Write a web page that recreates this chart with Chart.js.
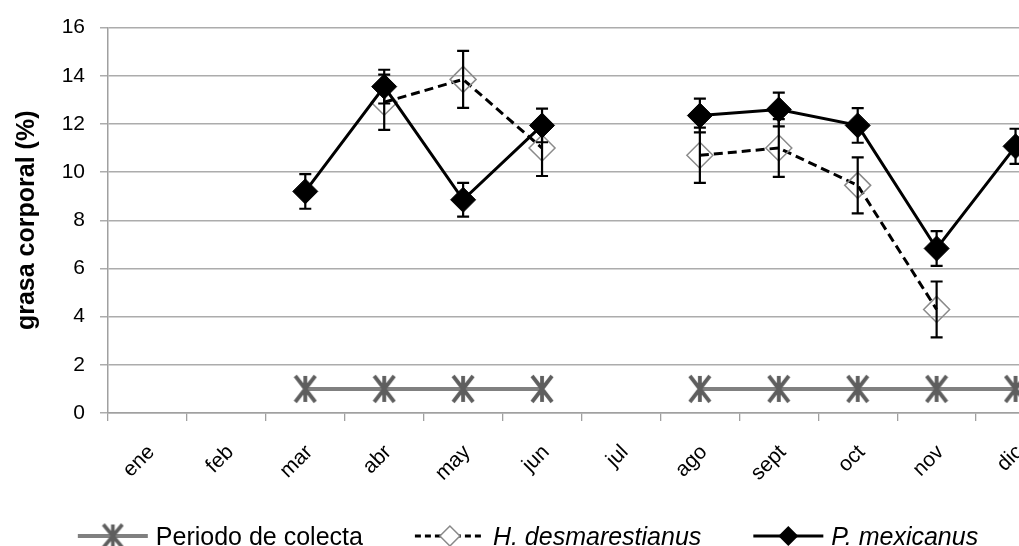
<!DOCTYPE html>
<html>
<head>
<meta charset="utf-8">
<script src="https://cdn.jsdelivr.net/npm/chart.js@4.4.1/dist/chart.umd.min.js"></script>
<style>
  html, body { margin: 0; padding: 0; background: #fff; overflow: hidden; }
  #wrap { width: 1019px; height: 546px; overflow: hidden; position: relative; }
  canvas { display: block; }
</style>
</head>
<body>
<div id="wrap"><canvas id="chart" width="1072" height="546"></canvas></div>
<script>
const months = ['ene', 'feb', 'mar', 'abr', 'may', 'jun', 'jul', 'ago', 'sept', 'oct', 'nov', 'dic'];
const yTicks = [0, 2, 4, 6, 8, 10, 12, 14, 16];

// Periodo de colecta (marker row at y = 1)
const periodo = [null, null, 1, 1, 1, 1, null, 1, 1, 1, 1, 1];

// H. desmarestianus
const hDes = [null, null, null, 12.9, 13.85, 11.0, null, 10.7, 11.0, 9.45, 4.3, null];
const hErr = [null, null, null, 1.15, 1.18, 1.16, null, 1.15, 1.2, 1.16, 1.16, null];

// P. mexicanus
const pMex = [null, null, 9.2, 13.55, 8.85, 11.94, null, 12.35, 12.6, 11.94, 6.83, 11.07];
const pErr = [null, null, 0.72, 0.7, 0.7, 0.7, null, 0.7, 0.7, 0.72, 0.72, 0.73];

const FONT = "'Liberation Sans', Arial, sans-serif";

// asterisk marker as an image
function makeAsterisk(w, h, lw, color) {
    const c = document.createElement('canvas');
    c.width = w + 4;
    c.height = h + 4;
    const g = c.getContext('2d');
    g.strokeStyle = color;
    g.lineWidth = lw;
    const cx = c.width / 2, cy = c.height / 2;
    g.beginPath();
    g.moveTo(cx, cy - h / 2); g.lineTo(cx, cy + h / 2);
    g.moveTo(cx - w / 2, cy - h / 2); g.lineTo(cx + w / 2, cy + h / 2);
    g.moveTo(cx - w / 2, cy + h / 2); g.lineTo(cx + w / 2, cy - h / 2);
    g.stroke();
    return c;
}
const asterisk = makeAsterisk(20, 26, 3.8, '#5e5e5e');
const asteriskSmall = makeAsterisk(19, 23, 3.6, '#5e5e5e');

// error bars drawn on top of the datasets
const errorBars = {
    id: 'errorBars',
    afterDatasetsDraw(chart) {
        const ctx = chart.ctx;
        const xs = chart.scales.x, ys = chart.scales.y;
        chart.data.datasets.forEach((ds) => {
            if (!ds.errors) return;
            ctx.save();
            ctx.strokeStyle = '#000';
            ctx.lineWidth = 2.2;
            ds.data.forEach((v, i) => {
                const e = ds.errors[i];
                if (v == null || e == null) return;
                const x = xs.getPixelForValue(i);
                const yTop = ys.getPixelForValue(v + e);
                const yBot = ys.getPixelForValue(v - e);
                ctx.beginPath();
                ctx.moveTo(x, yTop); ctx.lineTo(x, yBot);
                ctx.moveTo(x - 6, yTop); ctx.lineTo(x + 6, yTop);
                ctx.moveTo(x - 6, yBot); ctx.lineTo(x + 6, yBot);
                ctx.stroke();
            });
            ctx.restore();
        });
    }
};

// legend: line sample with marker, then text
const legendRow = {
    id: 'legendRow',
    afterDraw(chart) {
        const ctx = chart.ctx;
        const items = [
            { text: 'Periodo de colecta', italic: false, kind: 'periodo' },
            { text: 'H. desmarestianus', italic: true, kind: 'h' },
            { text: 'P. mexicanus', italic: true, kind: 'p' }
        ];
        const sample = 70, gapText = 8, gapItem = 52, y = 536, center = 528;
        let total = 0;
        items.forEach(it => {
            ctx.font = (it.italic ? 'italic ' : '') + '25px ' + FONT;
            it.w = ctx.measureText(it.text).width;
            total += sample + gapText + it.w;
        });
        total += gapItem * (items.length - 1);
        let x = center - total / 2;
        items.forEach(it => {
            ctx.save();
            const mid = x + sample / 2;
            if (it.kind === 'periodo') {
                ctx.strokeStyle = '#808080';
                ctx.lineWidth = 4;
                ctx.beginPath(); ctx.moveTo(x, y); ctx.lineTo(x + sample, y); ctx.stroke();
                ctx.drawImage(asteriskSmall, mid - asteriskSmall.width / 2, y - asteriskSmall.height / 2);
            } else {
                ctx.strokeStyle = '#000';
                ctx.lineWidth = 3;
                if (it.kind === 'h') ctx.setLineDash([6, 4]);
                ctx.beginPath(); ctx.moveTo(x, y); ctx.lineTo(x + sample, y); ctx.stroke();
                ctx.setLineDash([]);
                const r = 10;
                ctx.beginPath();
                ctx.moveTo(mid - r, y); ctx.lineTo(mid, y - r);
                ctx.lineTo(mid + r, y); ctx.lineTo(mid, y + r); ctx.closePath();
                if (it.kind === 'h') {
                    ctx.fillStyle = '#fff'; ctx.fill();
                    ctx.strokeStyle = '#888'; ctx.lineWidth = 1.5; ctx.stroke();
                } else {
                    ctx.fillStyle = '#000'; ctx.fill();
                }
            }
            ctx.fillStyle = '#000';
            ctx.font = (it.italic ? 'italic ' : '') + '25px ' + FONT;
            ctx.textAlign = 'left';
            ctx.textBaseline = 'alphabetic';
            ctx.fillText(it.text, x + sample + gapText, 545);
            ctx.restore();
            x += sample + gapText + it.w + gapItem;
        });
    }
};

const ctx = document.getElementById('chart').getContext('2d');

new Chart(ctx, {
    type: 'line',
    data: {
        labels: months,
        datasets: [
            {
                label: 'Periodo de colecta',
                data: periodo,
                borderColor: '#808080',
                borderWidth: 4,
                pointStyle: asterisk,
                pointRadius: 13,
                spanGaps: false,
                order: 2
            },
            {
                label: 'H. desmarestianus',
                data: hDes,
                errors: hErr,
                borderColor: '#000000',
                borderWidth: 3,
                borderDash: [9, 5],
                pointStyle: 'rectRot',
                pointRadius: 13,
                pointBorderColor: '#8a8a8a',
                pointBorderWidth: 1.5,
                pointBackgroundColor: 'rgba(255,255,255,0)',
                spanGaps: false,
                order: 1
            },
            {
                label: 'P. mexicanus',
                data: pMex,
                errors: pErr,
                borderColor: '#000000',
                borderWidth: 3,
                pointStyle: 'rectRot',
                pointRadius: 12.5,
                pointBorderColor: '#000000',
                pointBorderWidth: 1,
                pointBackgroundColor: '#000000',
                spanGaps: false,
                order: 0
            }
        ]
    },
    options: {
        responsive: false,
        animation: false,
        layout: { padding: { left: 0, right: 1, top: 22, bottom: 0 } },
        plugins: {
            legend: { display: false },
            tooltip: { enabled: false }
        },
        scales: {
            x: {
                type: 'category',
                offset: true,
                afterFit: (scale) => { scale.height = 133; },
                grid: {
                    display: true,
                    offset: true,
                    drawOnChartArea: false,
                    drawTicks: true,
                    tickLength: 8,
                    color: '#a0a0a0',
                    lineWidth: 1.3
                },
                border: { display: true, color: '#a0a0a0', width: 1.5 },
                ticks: {
                    color: '#000',
                    font: { family: FONT, size: 21 },
                    maxRotation: 45,
                    minRotation: 45,
                    padding: 19,
                    labelOffset: 4,
                    autoSkip: false
                }
            },
            y: {
                min: 0,
                max: 16,
                afterFit: (scale) => { scale.width = 108; },
                afterBuildTicks: (scale) => { scale.ticks = yTicks.map(v => ({ value: v })); },
                grid: {
                    color: '#acacac',
                    lineWidth: 1.5,
                    drawTicks: true,
                    tickLength: 8
                },
                border: { display: true, color: '#a0a0a0', width: 1.5 },
                ticks: {
                    color: '#000',
                    font: { family: FONT, size: 21 },
                    padding: 15
                },
                title: {
                    display: true,
                    text: 'grasa corporal (%)',
                    color: '#000',
                    font: { family: FONT, size: 25, weight: 'bold' },
                    padding: { top: 12, bottom: 0 }
                }
            }
        }
    },
    plugins: [errorBars, legendRow]
});
</script>
</body>
</html>
